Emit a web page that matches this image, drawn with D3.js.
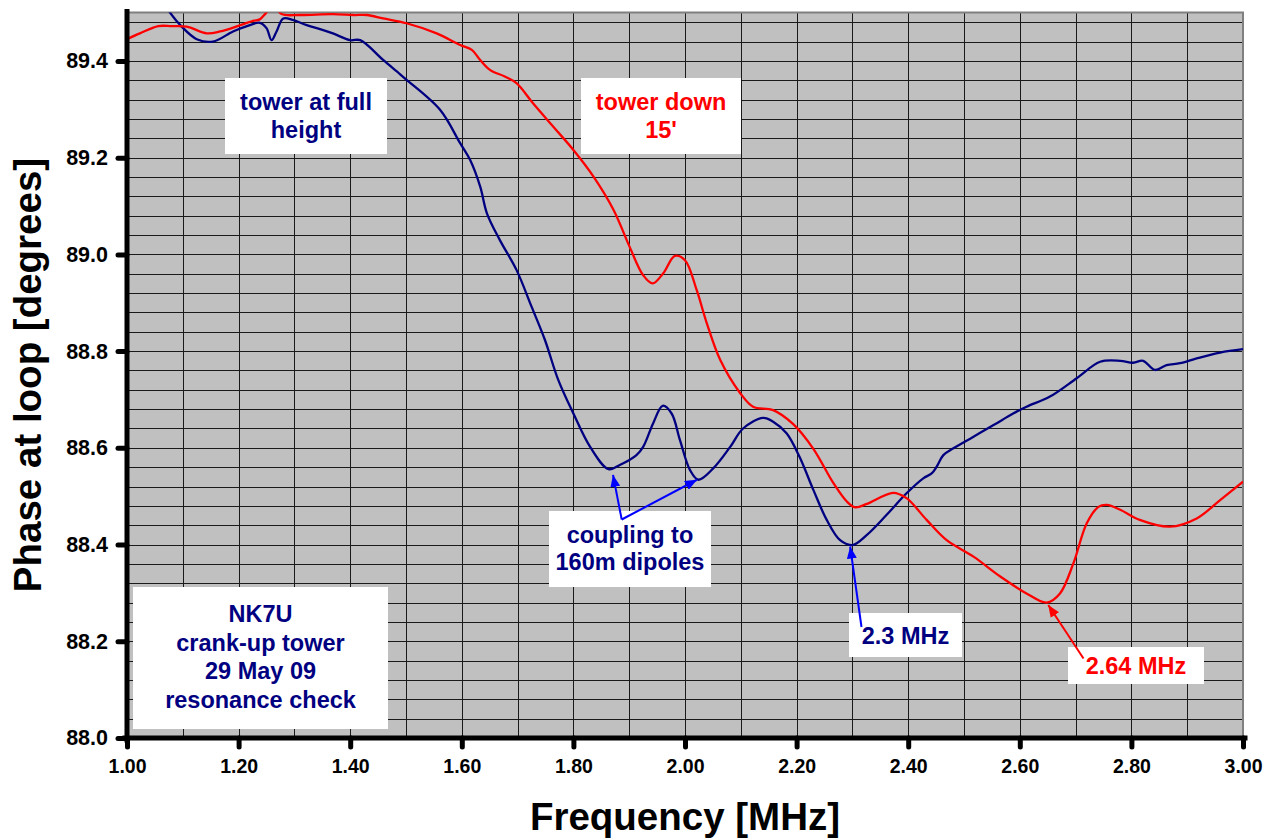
<!DOCTYPE html>
<html>
<head>
<meta charset="utf-8">
<script src="https://cdn.jsdelivr.net/npm/d3@7"></script>
<style>
  html, body { margin: 0; padding: 0; background: #fff; }
  svg { display: block; font-family: "Liberation Sans", Arial, Helvetica, sans-serif; }
</style>
</head>
<body>
<svg id="chart" width="1273" height="838"></svg>
<script>
// ---------------- data ----------------
const freqFull = [1.00, 1.05, 1.077, 1.098, 1.125, 1.154, 1.19, 1.215, 1.238, 1.25, 1.259, 1.268, 1.28, 1.297,
  1.322, 1.346, 1.369, 1.40, 1.418, 1.459, 1.489, 1.501, 1.561, 1.597, 1.615, 1.633, 1.645, 1.668, 1.698,
  1.725, 1.749, 1.773, 1.80, 1.83, 1.863, 1.884, 1.913, 1.925, 1.943, 1.96, 1.976, 1.991, 2.009, 2.024,
  2.051, 2.081, 2.104, 2.14, 2.158, 2.182, 2.205, 2.23, 2.254, 2.278, 2.30, 2.326, 2.361, 2.397, 2.427,
  2.442, 2.451, 2.463, 2.481, 2.517, 2.553, 2.588, 2.612, 2.654, 2.702, 2.744, 2.78, 2.803, 2.821, 2.842,
  2.863, 2.887, 2.917, 2.959, 3.00];
const phaseFull = [89.60, 89.55, 89.50, 89.471, 89.445, 89.440, 89.461, 89.472, 89.479, 89.468, 89.443, 89.461,
  89.488, 89.485, 89.474, 89.466, 89.457, 89.443, 89.443, 89.402, 89.373, 89.361, 89.299, 89.230, 89.195,
  89.140, 89.085, 89.030, 88.968, 88.892, 88.823, 88.740, 88.671, 88.602, 88.556, 88.565, 88.585, 88.602,
  88.651, 88.687, 88.671, 88.616, 88.554, 88.534, 88.558, 88.602, 88.640, 88.662, 88.654, 88.630, 88.582,
  88.513, 88.451, 88.409, 88.399, 88.420, 88.461, 88.506, 88.537, 88.547, 88.561, 88.585, 88.599, 88.623,
  88.647, 88.671, 88.685, 88.706, 88.744, 88.778, 88.780, 88.776, 88.780, 88.761, 88.771, 88.775, 88.785,
  88.797, 88.804];

const freqDown = [1.00, 1.023, 1.056, 1.08, 1.107, 1.143, 1.167, 1.203, 1.226, 1.238, 1.249, 1.262, 1.277, 1.31,
  1.369, 1.406, 1.43, 1.459, 1.501, 1.555, 1.597, 1.618, 1.633, 1.651, 1.677, 1.698, 1.728, 1.764, 1.80,
  1.836, 1.872, 1.901, 1.925, 1.942, 1.961, 1.982, 2.00, 2.021, 2.039, 2.063, 2.099, 2.122, 2.158, 2.194,
  2.23, 2.266, 2.29, 2.305, 2.326, 2.373, 2.397, 2.433, 2.469, 2.517, 2.565, 2.612, 2.648, 2.672, 2.696,
  2.72, 2.741, 2.756, 2.78, 2.815, 2.869, 2.917, 2.959, 3.00];
const phaseDown = [89.445, 89.457, 89.472, 89.472, 89.471, 89.457, 89.461, 89.474, 89.483, 89.486, 89.499,
  89.515, 89.497, 89.495, 89.497, 89.495, 89.495, 89.488, 89.478, 89.457, 89.433, 89.423, 89.402, 89.381,
  89.368, 89.354, 89.312, 89.264, 89.216, 89.161, 89.092, 89.015, 88.957, 88.940, 88.961, 88.997, 88.988,
  88.926, 88.858, 88.782, 88.713, 88.685, 88.678, 88.649, 88.598, 88.527, 88.489, 88.477, 88.484, 88.507,
  88.496, 88.451, 88.409, 88.375, 88.334, 88.299, 88.280, 88.299, 88.361, 88.444, 88.478, 88.482, 88.472,
  88.451, 88.437, 88.454, 88.492, 88.530];

const xTicks = [1.00, 1.20, 1.40, 1.60, 1.80, 2.00, 2.20, 2.40, 2.60, 2.80, 3.00];
const yTicks = [88.0, 88.2, 88.4, 88.6, 88.8, 89.0, 89.2, 89.4];
const xLabel = "Frequency [MHz]";
const yLabel = "Phase at loop [degrees]";

// annotation texts
const noteFull = ["tower at full", "height"];
const noteDown = ["tower down", "15'"];
const noteCoupling = ["coupling to", "160m dipoles"];
const noteInfo = ["NK7U", "crank-up tower", "29 May 09", "resonance check"];
const noteMin23 = ["2.3 MHz"];
const noteMin264 = ["2.64 MHz"];
// arrow targets (freq, phase)
const targetsCoupling = [[1.871, 88.544], [2.0215, 88.534]];
const target23 = [2.296, 88.396];
const target264 = [2.651, 88.275];

// ---------------- drawing ----------------
const svg = d3.select("#chart");
const navy = "#000080", red = "#FF0000", blue = "#0000FF";
const pLeft = 127, pRight = 1243, pTop = 12.6, pBottom = 738;

const x = d3.scaleLinear().domain([1, 3]).range([pLeft, pRight]);
const y = d3.scaleLinear().domain([88, 89.5]).range([pBottom, pTop]);

// plot background
svg.append("rect").attr("x", pLeft).attr("y", pTop).attr("width", pRight - pLeft).attr("height", pBottom - pTop)
  .attr("fill", "#C0C0C0");

// grid
const grid = svg.append("g");
const vGrid = d3.range(1, 20).map(i => 1 + i * 0.1);
const hGrid = d3.range(1, 38).map(i => 88 + i * 0.04);
grid.selectAll("line.v").data(vGrid).join("line")
  .attr("x1", d => Math.round(x(d)) + 0.5).attr("x2", d => Math.round(x(d)) + 0.5)
  .attr("y1", pTop).attr("y2", pBottom).attr("stroke", "#1a1a1a").attr("stroke-width", 1);
grid.selectAll("line.h").data(hGrid).join("line")
  .attr("y1", d => Math.round(y(d)) + 0.5).attr("y2", d => Math.round(y(d)) + 0.5)
  .attr("x1", pLeft).attr("x2", pRight).attr("stroke", "#1a1a1a").attr("stroke-width", 1);

// top and right borders
svg.append("line").attr("x1", pLeft).attr("x2", pRight + 1).attr("y1", pTop).attr("y2", pTop)
  .attr("stroke", "#808080").attr("stroke-width", 2);
svg.append("line").attr("x1", pRight).attr("x2", pRight).attr("y1", pTop).attr("y2", pBottom)
  .attr("stroke", "#808080").attr("stroke-width", 2);

// clip
svg.append("clipPath").attr("id", "plotclip").append("rect")
  .attr("x", pLeft).attr("y", pTop).attr("width", pRight - pLeft).attr("height", pBottom - pTop);

const line = d3.line().x(d => x(d[0])).y(d => y(d[1])).curve(d3.curveCatmullRom.alpha(0.5));
const series = [
  { f: freqFull, p: phaseFull, color: navy },
  { f: freqDown, p: phaseDown, color: red }
];
const plot = svg.append("g").attr("clip-path", "url(#plotclip)");
series.forEach(s => {
  plot.append("path").datum(s.f.map((f, i) => [f, s.p[i]]))
    .attr("d", line).attr("fill", "none").attr("stroke", s.color).attr("stroke-width", 2.3)
    .attr("stroke-linejoin", "round");
});

// annotation boxes
const notes = svg.append("g");
function box(x0, y0, x1, y1, lines, color, cx, base0, lh) {
  notes.append("rect").attr("x", x0).attr("y", y0).attr("width", x1 - x0).attr("height", y1 - y0).attr("fill", "#fff");
  lines.forEach((t, i) => {
    notes.append("text").attr("x", cx).attr("y", base0 + i * lh).attr("text-anchor", "middle")
      .attr("font-size", 23.5).attr("font-weight", "bold").attr("fill", color).text(t);
  });
}
box(225, 78, 387, 154, noteFull, navy, 306, 110, 27.7);
box(581, 78, 741, 154, noteDown, red, 661, 110, 27.7);
box(549, 511, 711, 587, noteCoupling, navy, 630, 542.5, 27.7);
box(133, 587, 388, 729, noteInfo, navy, 260.5, 622, 28.7);
box(849, 613, 962, 657, noteMin23, navy, 905.5, 643.5, 0);
box(1068, 647, 1204, 684, noteMin264, red, 1136, 673.5, 0);

// arrows
const defs = svg.append("defs");
function marker(id, color) {
  defs.append("marker").attr("id", id).attr("viewBox", "0 0 12 10").attr("refX", 12).attr("refY", 5)
    .attr("markerWidth", 12).attr("markerHeight", 10).attr("markerUnits", "userSpaceOnUse")
    .attr("orient", "auto")
    .append("path").attr("d", "M0,0 L12,5 L0,10 Z").attr("fill", color);
}
marker("ab", blue); marker("ar", red);
const arrows = svg.append("g");
function arrow(x0, y0, t, color, m) {
  arrows.append("line").attr("x1", x0).attr("y1", y0).attr("x2", x(t[0])).attr("y2", y(t[1]))
    .attr("stroke", color).attr("stroke-width", 2).attr("marker-end", `url(#${m})`);
}
arrow(621.7, 519.5, targetsCoupling[0], blue, "ab");
arrow(621.7, 519.5, targetsCoupling[1], blue, "ab");
arrow(861.5, 627, target23, blue, "ab");
arrow(1083.5, 658.5, target264, red, "ar");

// axes
const yAxis = d3.axisLeft(y).tickValues(yTicks).tickFormat(d3.format(".1f")).tickSize(9).tickSizeOuter(0).tickPadding(10);
const xAxis = d3.axisBottom(x).tickValues(xTicks).tickFormat(d3.format(".2f")).tickSize(9).tickSizeOuter(0).tickPadding(12);

const gy = svg.append("g").attr("transform", `translate(${pLeft},0)`).call(yAxis);
const gx = svg.append("g").attr("transform", `translate(0,${pBottom})`).call(xAxis);
[gy, gx].forEach(g => {
  g.select(".domain").attr("stroke", "#000").attr("stroke-width", 5).attr("stroke-linecap", "square");
  g.selectAll(".tick line").attr("stroke", "#000").attr("stroke-width", 5).attr("stroke-linecap", "round");
  g.selectAll(".tick text").attr("font-weight", "bold").attr("fill", "#000")
    .attr("font-family", "'Liberation Sans', Arial, sans-serif");
});
gy.selectAll(".tick text").attr("font-size", 21.5);
gx.selectAll(".tick text").attr("font-size", 19.5);
gy.select(".domain").attr("d", `M0,${pTop - 1}V${pBottom + 2}`);
gx.select(".domain").attr("d", `M${pLeft - 2},0H${pRight + 2}`);

// axis titles
svg.append("text").attr("x", 685).attr("y", 830).attr("text-anchor", "middle")
  .attr("font-size", 38.5).attr("font-weight", "bold").attr("fill", "#000").text(xLabel);
svg.append("text").attr("transform", "translate(41,375) rotate(-90)").attr("text-anchor", "middle")
  .attr("font-size", 38.5).attr("font-weight", "bold").attr("fill", "#000").text(yLabel);
</script>
</body>
</html>
